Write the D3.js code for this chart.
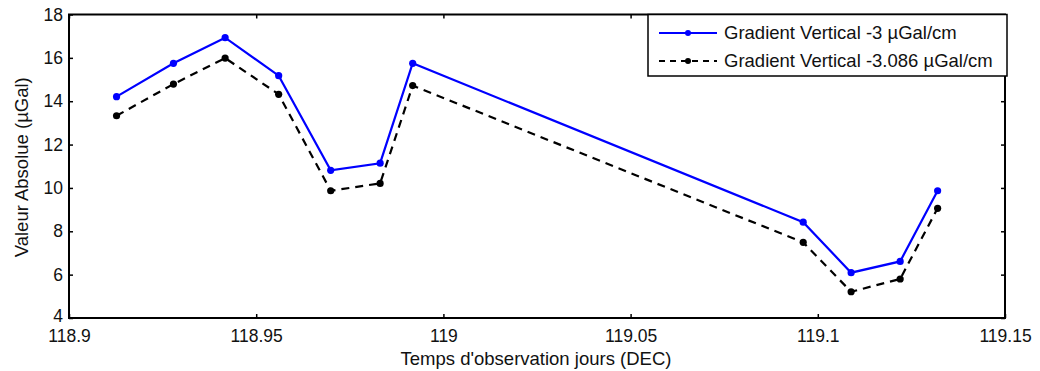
<!DOCTYPE html>
<html>
<head>
<meta charset="utf-8">
<script src="https://cdn.jsdelivr.net/npm/d3@7/dist/d3.min.js"></script>
<style>
  html, body { margin: 0; padding: 0; background: #fff; }
  svg { display: block; font-family: "Liberation Sans", Arial, sans-serif; }
</style>
</head>
<body>
<svg id="chart" width="1040" height="371"></svg>
<script>
// Observation times (decimal days)
const times = [118.9127, 118.9279, 118.9417, 118.9560, 118.9699, 118.9831, 118.9918, 119.0961, 119.1089, 119.1220, 119.1320];
// Absolute values (µGal) for each vertical gradient
const gradient3 = [14.21, 15.75, 16.93, 15.18, 10.81, 11.14, 15.75, 8.42, 6.09, 6.61, 9.87];
const gradient3086 = [13.33, 14.79, 15.99, 14.32, 9.87, 10.21, 14.72, 7.49, 5.21, 5.80, 9.06];
const seriesNames = ["Gradient Vertical -3 µGal/cm", "Gradient Vertical -3.086 µGal/cm"];
const xTicks = [118.9, 118.95, 119, 119.05, 119.1, 119.15];
const yTicks = [4, 6, 8, 10, 12, 14, 16, 18];

const svg = d3.select("#chart");
const m = { left: 69, top: 14.5, right: 1005, bottom: 318 };

const x = d3.scaleLinear().domain([118.9, 119.15]).range([m.left, m.right]);
const y = d3.scaleLinear().domain([4, 18]).range([m.bottom, m.top]);

const tickLen = 4;
const tickFont = 17.5;
const labelFont = 18.5;

// Axes with inward ticks on all four sides
const bottomAxis = d3.axisBottom(x).tickValues(xTicks).tickFormat(d => String(+d.toFixed(2)))
  .tickSizeInner(-tickLen).tickSizeOuter(0).tickPadding(12);
const topAxis = d3.axisTop(x).tickValues(xTicks).tickFormat("").tickSizeInner(-tickLen).tickSizeOuter(0);
const leftAxis = d3.axisLeft(y).tickValues(yTicks).tickFormat(d3.format("d"))
  .tickSizeInner(-tickLen).tickSizeOuter(0).tickPadding(6);
const rightAxis = d3.axisRight(y).tickValues(yTicks).tickFormat("").tickSizeInner(-tickLen).tickSizeOuter(0);

function styleAxis(g) {
  g.select(".domain").remove();
  g.selectAll(".tick line").attr("stroke", "#000").attr("stroke-width", 1.5);
  g.selectAll(".tick text").attr("fill", "#111").attr("font-size", tickFont)
    .attr("font-family", "Liberation Sans, Arial, sans-serif");
}

svg.append("g").attr("transform", `translate(0,${m.bottom})`).call(bottomAxis).call(styleAxis);
svg.append("g").attr("transform", `translate(0,${m.top})`).call(topAxis).call(styleAxis);
const yAxisG = svg.append("g").attr("transform", `translate(${m.left},0)`).call(leftAxis).call(styleAxis);
// the lowest label sits just above the corner, clear of the x labels
yAxisG.selectAll(".tick text").filter(d => d === 4).attr("dy", "0.2em");
svg.append("g").attr("transform", `translate(${m.right},0)`).call(rightAxis).call(styleAxis);

// Plot box
svg.append("rect")
  .attr("x", m.left).attr("y", m.top)
  .attr("width", m.right - m.left).attr("height", m.bottom - m.top)
  .attr("fill", "none").attr("stroke", "#000").attr("stroke-width", 2);

// Axis titles
svg.append("text")
  .attr("x", 536).attr("y", 365)
  .attr("text-anchor", "middle").attr("font-size", labelFont).attr("fill", "#111")
  .text("Temps d'observation jours (DEC)");

svg.append("text")
  .attr("transform", `translate(27.5,${(m.top + m.bottom) / 2 + 1}) rotate(-90)`)
  .attr("text-anchor", "middle").attr("font-size", labelFont).attr("fill", "#111")
  .text("Valeur Absolue (µGal)");

const line = d3.line().x(d => x(d[0])).y(d => y(d[1]));

const series = [
  { values: gradient3, color: "#0000ff", dash: null, r: 3.6 },
  { values: gradient3086, color: "#000000", dash: "8,6", r: 3.6 }
];

series.slice().reverse().forEach(s => {
  const pts = times.map((t, i) => [t, s.values[i]]);
  svg.append("path").datum(pts)
    .attr("d", line).attr("fill", "none")
    .attr("stroke", s.color).attr("stroke-width", 2.2)
    .attr("stroke-dasharray", s.dash);
  svg.append("g").selectAll("circle").data(pts).join("circle")
    .attr("cx", d => x(d[0])).attr("cy", d => y(d[1])).attr("r", s.r)
    .attr("fill", s.color);
});

// Legend
const lg = svg.append("g");
lg.append("rect")
  .attr("x", 648).attr("y", m.top).attr("width", 359).attr("height", 61.5)
  .attr("fill", "#fff").attr("stroke", "#000").attr("stroke-width", 1.5);
series.forEach((s, i) => {
  const cy = 33 + i * 28;
  lg.append("line").attr("x1", 659).attr("x2", 717).attr("y1", cy).attr("y2", cy)
    .attr("stroke", s.color).attr("stroke-width", 2.2).attr("stroke-dasharray", s.dash ? "6,5" : null);
  lg.append("circle").attr("cx", 688).attr("cy", cy).attr("r", 3).attr("fill", s.color);
  lg.append("text").attr("x", 724).attr("y", cy).attr("dy", "0.35em")
    .attr("font-size", labelFont).attr("fill", "#111").text(seriesNames[i]);
});
</script>
</body>
</html>
